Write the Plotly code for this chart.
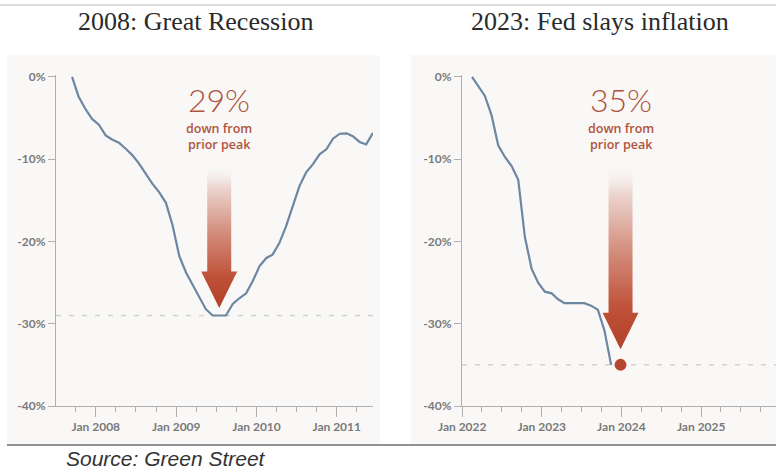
import pandas as pd
import plotly.graph_objects as go

# ---- data -------------------------------------------------------------
# Commercial property prices, % change from prior peak (monthly)
gfc_months = pd.date_range("2007-08-15", periods=46, freq="MS") + pd.Timedelta(days=14)
gfc_values = [
    0.0, -2.4, -3.9, -5.1, -5.8,                       # Aug-Dec 2007
    -7.1, -7.6, -8.0, -8.7, -9.5, -10.5, -11.8, -13.0, -14.0, -15.3, -18.0, -21.8,   # 2008
    -23.8, -25.2, -26.6, -28.2, -29.0, -29.0, -29.0, -27.6, -26.9, -26.3, -24.8, -23.0,  # 2009
    -22.0, -21.6, -20.2, -18.2, -15.7, -13.3, -11.6, -10.6, -9.4, -8.8, -7.5, -6.9,   # 2010
    -6.85, -7.2, -7.9, -8.2, -6.8,                     # Jan-May 2011
]

fed_months = pd.date_range("2022-02-01", periods=22, freq="MS") + pd.Timedelta(days=14)
fed_values = [
    0.0, -1.1, -2.3, -4.6, -8.3, -9.7, -10.8, -12.5, -19.4, -23.3, -25.0,   # Feb-Dec 2022
    -26.1, -26.3, -27.0, -27.5, -27.5, -27.5, -27.5, -27.8, -28.3, -30.8, -35.0,  # Jan-Nov 2023
]
fed_latest_date = pd.Timestamp("2023-12-28")
fed_latest_value = -35.0

panel_titles = ["2008: Great Recession", "2023: Fed slays inflation"]
y_tickvals = [0, -10, -20, -30, -40]
y_ticktext = ["0%", "-10%", "-20%", "-30%", "-40%"]
source_note = "Source: Green Street"

# ---- styling ----------------------------------------------------------
W, H = 776, 472
LINE_COLOR = "#6d87a2"
RUST = "#b4472e"
LABEL_RUST = "#b0533d"
AXIS_COLOR = "#b0b0b0"
TICK_FONT = dict(family="Lato", size=12, color="#7a7a7a", weight=700)
PANEL_BG = "#f9f8f6"

Y_RANGE = [-40, 0.3]
Y_TOP_PX, Y_BOT_PX = 74.5, 406
y_domain = [(H - Y_BOT_PX) / H, (H - Y_TOP_PX) / H]

left_px = (56, 373)
right_px = (462, 776)
left_range = [pd.Timestamp("2007-07-04"), pd.Timestamp("2011-06-15")]
right_range = [pd.Timestamp("2021-12-31"), pd.Timestamp("2025-12-10")]

ARROW_TOP = -10.8
HEAD_LEN = 4.45
SHAFT_HALF_PX = 12
HEAD_HALF_PX = 18


def days_per_px(rng, px):
    return (rng[1] - rng[0]).days / (px[1] - px[0])


def arrow_polygon(center, tip_y, rng, px):
    dpp = days_per_px(rng, px)
    s = pd.Timedelta(days=SHAFT_HALF_PX * dpp)
    h = pd.Timedelta(days=HEAD_HALF_PX * dpp)
    base = tip_y + HEAD_LEN
    xs = [center - s, center - s, center - h, center, center + h, center + s, center + s, center - s]
    ys = [ARROW_TOP, base, base, tip_y, base, base, ARROW_TOP, ARROW_TOP]
    return xs, ys


ARROW_SCALE = [
    [0.0, "#b3402a"],
    [0.22, "#bf5138"],
    [0.55, "#d49181"],
    [0.85, "#ecd6d0"],
    [1.0, "rgba(249,248,246,0.2)"],
]

fig = go.Figure()

# ---- left panel: 2008 -------------------------------------------------
gfc_trough = min(gfc_values)
trough_dates = [d for d, v in zip(gfc_months, gfc_values) if v == gfc_trough]
gfc_center = trough_dates[0] + (trough_dates[-1] - trough_dates[0]) / 2

fig.add_trace(go.Scatter(
    x=gfc_months, y=gfc_values, mode="lines",
    line=dict(color=LINE_COLOR, width=2.2), xaxis="x", yaxis="y", hoverinfo="skip",
))
ax, ay = arrow_polygon(gfc_center, gfc_trough + 0.9, left_range, left_px)
fig.add_trace(go.Scatter(
    x=ax, y=ay, mode="none", fill="toself",
    fillgradient=dict(type="vertical", colorscale=ARROW_SCALE),
    xaxis="x", yaxis="y", hoverinfo="skip",
))

# ---- right panel: 2023 ------------------------------------------------
fig.add_trace(go.Scatter(
    x=fed_months, y=fed_values, mode="lines",
    line=dict(color=LINE_COLOR, width=2.2), xaxis="x2", yaxis="y2", hoverinfo="skip",
))
bx, by = arrow_polygon(fed_latest_date, fed_latest_value + 1.9, right_range, right_px)
fig.add_trace(go.Scatter(
    x=bx, y=by, mode="none", fill="toself",
    fillgradient=dict(type="vertical", colorscale=ARROW_SCALE),
    xaxis="x2", yaxis="y2", hoverinfo="skip",
))
fig.add_trace(go.Scatter(
    x=[fed_latest_date], y=[fed_latest_value], mode="markers",
    marker=dict(color=RUST, size=12), xaxis="x2", yaxis="y2",
    cliponaxis=False, hoverinfo="skip",
))

# ---- axes -------------------------------------------------------------
def x_axis(rng, px, anchor):
    return dict(
        type="date", range=rng, domain=[px[0] / W, px[1] / W], anchor=anchor,
        automargin=False,
        showgrid=False, zeroline=False, showline=True, linecolor=AXIS_COLOR, linewidth=1,
        ticks="outside", ticklen=10, tickcolor=AXIS_COLOR, tickwidth=1,
        dtick="M12", tick0="2000-01-01", tickformat="%b %Y", tickfont=TICK_FONT,
        minor=dict(ticks="outside", ticklen=5, dtick="M3", tick0="2000-01-01",
                   tickcolor=AXIS_COLOR, tickwidth=1, showgrid=False),
        fixedrange=True,
    )


def y_axis(anchor):
    return dict(
        range=Y_RANGE, domain=y_domain, anchor=anchor, automargin=False,
        showgrid=False, zeroline=False, showline=True, linecolor=AXIS_COLOR, linewidth=1,
        ticks="outside", ticklen=7, tickcolor=AXIS_COLOR, tickwidth=1,
        tickvals=y_tickvals, ticktext=y_ticktext, tickfont=TICK_FONT, fixedrange=True,
    )


fig.update_layout(
    width=W, height=H, margin=dict(l=0, r=0, t=0, b=0, pad=0), autosize=False,
    paper_bgcolor="white", plot_bgcolor="rgba(0,0,0,0)", showlegend=False,
    xaxis=x_axis(left_range, left_px, "y"),
    yaxis=y_axis("x"),
    xaxis2=x_axis(right_range, right_px, "y2"),
    yaxis2=y_axis("x2"),
)

# ---- panels, rules, reference lines ------------------------------------
shapes = [
    dict(type="rect", xref="paper", yref="paper", x0=7 / W, x1=380 / W,
         y0=(H - 444) / H, y1=(H - 55) / H, fillcolor=PANEL_BG, line=dict(width=0), layer="below"),
    dict(type="rect", xref="paper", yref="paper", x0=411 / W, x1=1,
         y0=(H - 444) / H, y1=(H - 55) / H, fillcolor=PANEL_BG, line=dict(width=0), layer="below"),
    dict(type="line", xref="paper", yref="paper", x0=0, x1=1, y0=(H - 5) / H, y1=(H - 5) / H,
         line=dict(color="#bdbdbd", width=1)),
    dict(type="line", xref="paper", yref="paper", x0=7 / W, x1=1, y0=(H - 445) / H, y1=(H - 445) / H,
         line=dict(color="#6e6e6e", width=1.5)),
    dict(type="line", xref="x domain", yref="y", x0=0, x1=1, y0=gfc_trough, y1=gfc_trough,
         line=dict(color="#d2d2d2", width=1.5, dash="5px,8px"), layer="below"),
    dict(type="line", xref="x2 domain", yref="y2", x0=0, x1=1, y0=fed_latest_value, y1=fed_latest_value,
         line=dict(color="#d2d2d2", width=1.5, dash="5px,8px"), layer="below"),
]
fig.update_layout(shapes=shapes)

# ---- text -------------------------------------------------------------
annotations = [
    dict(text=panel_titles[0], xref="paper", yref="paper", x=195 / W, y=1 - 22 / H,
         showarrow=False, xanchor="center", yanchor="middle",
         font=dict(family="Liberation Serif", size=26, color="#2a2a2a")),
    dict(text=panel_titles[1], xref="paper", yref="paper", x=600 / W, y=1 - 22 / H,
         showarrow=False, xanchor="center", yanchor="middle",
         font=dict(family="Liberation Serif", size=26, color="#2a2a2a")),
    dict(text=source_note, xref="paper", yref="paper", x=64 / W, y=1 - 458 / H,
         showarrow=False, xanchor="left", yanchor="middle",
         font=dict(family="Liberation Sans", size=21, color="#333333", style="italic")),
]
for xref, yref, cx, val in [("x", "y", gfc_center, gfc_trough),
                            ("x2", "y2", fed_latest_date, fed_latest_value)]:
    annotations.append(dict(
        text=f"{abs(val):.0f}%", xref=xref, yref=yref, x=cx, y=-2.8,
        showarrow=False, xanchor="center", yanchor="middle",
        font=dict(family="Lato", size=32, color=LABEL_RUST, weight=300)))
    annotations.append(dict(
        text="down from<br>prior peak", xref=xref, yref=yref, x=cx, y=-7.2,
        showarrow=False, xanchor="center", yanchor="middle",
        font=dict(family="Open Sans", size=12.5, color=LABEL_RUST, weight=600)))
fig.update_layout(annotations=annotations)

fig.write_html("out.html")
